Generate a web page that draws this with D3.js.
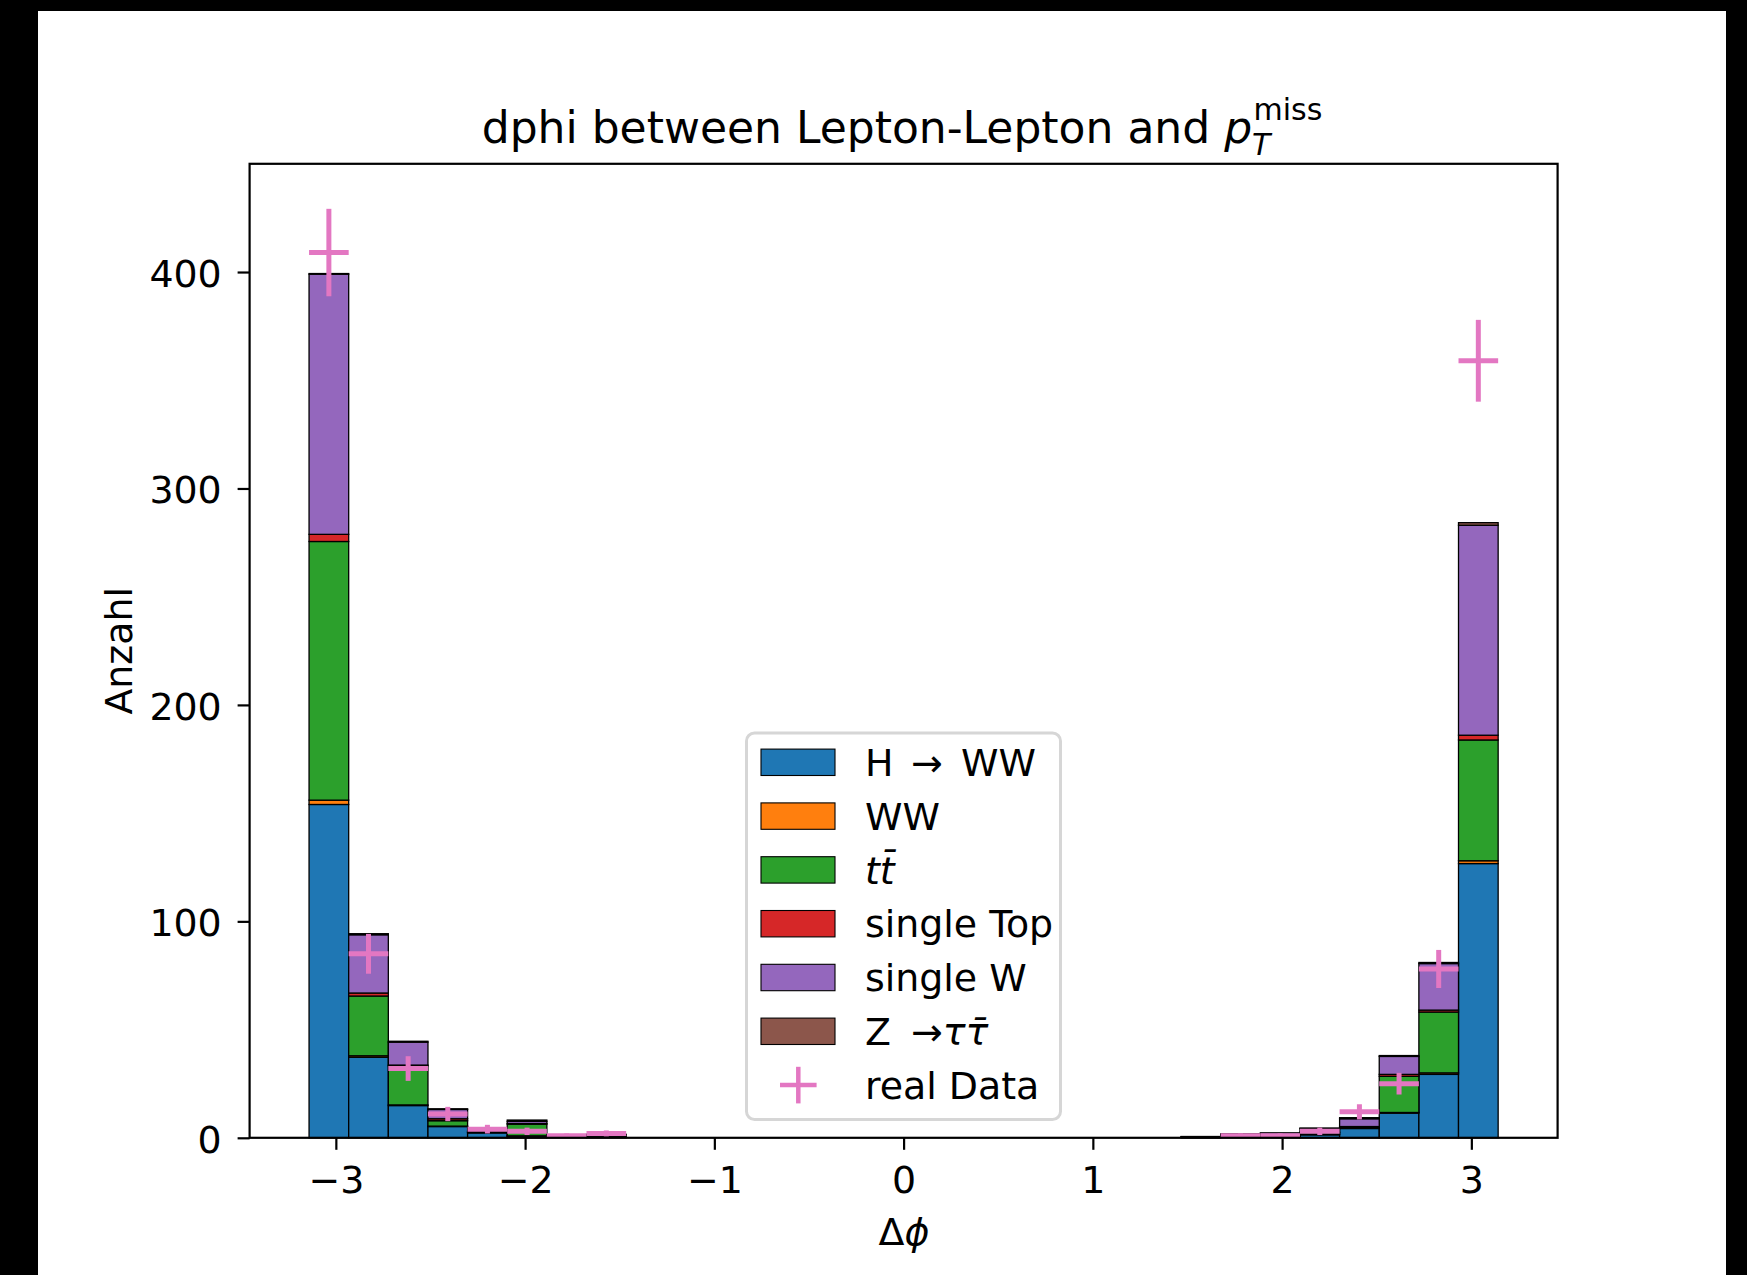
<!DOCTYPE html>
<html><head><meta charset="utf-8">
<script src="https://cdn.jsdelivr.net/npm/d3@7"></script>
<style>
body{margin:0;background:#000}
svg{display:block}
text{font-family:"DejaVu Sans",sans-serif;white-space:pre}
</style>
</head><body>
<svg id="c" width="1747" height="1275"></svg>
<script>
// ---- data ----
const binRange = [-Math.PI, Math.PI];
const nBins = 30;
const seriesNames = ["H \u2192 WW", "WW", "tt\u0304", "single Top", "single W", "Z \u2192\u03c4\u03c4\u0304"];
const seriesColors = ["#1f77b4", "#ff7f0e", "#2ca02c", "#d62728", "#9467bd", "#8c564b"];
const hww   = [154, 37.2, 14.9, 5.2, 2.3, 0.8, 0.2, 0.3, 0,0,0,0,0,0,0,0,0,0,0,0,0,0, 0.1, 0.3, 0.5, 1.4, 4.3, 11.4, 29.3, 126.7];
const ww    = [2.0, 0.7, 0.3, 0.2, 0.1, 0.1, 0, 0,       0,0,0,0,0,0,0,0,0,0,0,0,0,0, 0, 0, 0, 0.1, 0.1, 0.3, 0.7, 1.3];
const ttbar = [119.5, 27.6, 18.1, 2.5, 0.1, 5.4, 0.1, 0.2, 0,0,0,0,0,0,0,0,0,0,0,0,0,0, 0.1, 0.3, 0.4, 0.8, 0.3, 16.7, 28.1, 55.8];
const singleTop = [3.3, 1.4, 0.3, 0.9, 0.2, 0.3, 0, 0,   0,0,0,0,0,0,0,0,0,0,0,0,0,0, 0, 0, 0, 0.3, 0.5, 0.9, 0.9, 2.2];
const singleW = [120.2, 26.9, 10.6, 4.3, 0.2, 1.0, 1.0, 1.0, 0,0,0,0,0,0,0,0,0,0,0,0,0,0, 0.3, 1.2, 1.4, 1.7, 3.6, 8.3, 21.5, 97.0];
const ztautau = [0.3, 0.5, 0.4, 0.3, 0.1, 0.6, 0, 0.1,  0,0,0,0,0,0,0,0,0,0,0,0,0,0, 0.1, 0, 0, 0.2, 0.5, 0.4, 0.5, 1.2];
const realData = [409, 85, 32, 11, 4, 3, 1, 2, 0,0,0,0,0,0,0,0,0,0,0,0,0,0, 0, 1, 1, 3, 12, 25, 78, 359];
const realErr  = [20.2, 9.2, 5.7, 3.3, 2.0, 1.7, 1.0, 1.4, 0,0,0,0,0,0,0,0,0,0,0,0,0,0, 0, 1.0, 1.0, 1.7, 3.5, 5.0, 8.8, 18.9];
const xTicks = [-3, -2, -1, 0, 1, 2, 3];
const yTicks = [0, 100, 200, 300, 400];
const yMax = 450;

// ---- layout ----
const svg = d3.select("#c");
const L = 249.6, R = 1557.6, T = 163.8, B = 1137.8;
const fs = 37.9;
svg.append("rect").attr("x",0).attr("y",0).attr("width",1747).attr("height",1275).attr("fill","#000");
svg.append("rect").attr("x",38).attr("y",11).attr("width",1726-38).attr("height",1275-11).attr("fill","#fff");

const width = binRange[1]-binRange[0];
const x = d3.scaleLinear().domain([binRange[0]-0.05*width, binRange[1]+0.05*width]).range([L, R]);
const y = d3.scaleLinear().domain([0, yMax]).range([B, T]);
const edges = d3.range(nBins+1).map(i => binRange[0] + i*width/nBins);

const rows = d3.range(nBins).map(i => ({i, x0: edges[i], x1: edges[i+1],
  s0: hww[i], s1: ww[i], s2: ttbar[i], s3: singleTop[i], s4: singleW[i], s5: ztautau[i]}));
const keys = ["s0","s1","s2","s3","s4","s5"];
const stacked = d3.stack().keys(keys)(rows);

const gBars = svg.append("g");
stacked.forEach((layer, k) => {
  gBars.selectAll(null).data(layer).enter().append("rect")
    .attr("x", d => x(d.data.x0))
    .attr("width", d => x(d.data.x1) - x(d.data.x0))
    .attr("y", d => y(d[1]))
    .attr("height", d => Math.max(0, y(d[0]) - y(d[1])))
    .attr("fill", seriesColors[k])
    .attr("stroke", "#000")
    .attr("stroke-width", 1.3);
});

// data crosses
const pink = "#e377c2";
const gData = svg.append("g").attr("stroke", pink).attr("stroke-width", 5);
rows.forEach(r => {
  const v = realData[r.i];
  if (v <= 0) return;
  const e = realErr[r.i];
  const cx = x((r.x0 + r.x1)/2);
  gData.append("line").attr("x1", x(r.x0)).attr("x2", x(r.x1)).attr("y1", y(v)).attr("y2", y(v));
  gData.append("line").attr("x1", cx).attr("x2", cx).attr("y1", y(v - e)).attr("y2", y(v + e));
});

// axes
const fmt = d => d < 0 ? "\u2212" + (-d) : String(d);
const gx = svg.append("g").attr("transform", `translate(0,${B})`)
  .call(d3.axisBottom(x).tickValues(xTicks).tickSize(12).tickFormat(fmt));
gx.select(".domain").remove();
gx.selectAll(".tick line").attr("stroke", "#000").attr("stroke-width", 2.2);
gx.selectAll(".tick text").attr("y", 55.7).attr("dy", null)
  .style("font-family", "DejaVu Sans").style("font-size", fs + "px").attr("fill", "#000");

const gy = svg.append("g").attr("transform", `translate(${L},0)`)
  .call(d3.axisLeft(y).tickValues(yTicks).tickSize(12).tickFormat(fmt));
gy.select(".domain").remove();
gy.selectAll(".tick line").attr("stroke", "#000").attr("stroke-width", 2.2);
gy.selectAll(".tick text").attr("x", -27.9).attr("dy", null).attr("y", 14.3)
  .style("font-family", "DejaVu Sans").style("font-size", fs + "px").attr("fill", "#000");

svg.append("rect").attr("x", L).attr("y", T).attr("width", R-L).attr("height", B-T)
  .attr("fill", "none").attr("stroke", "#000").attr("stroke-width", 2.2);

// labels
const title = svg.append("text").attr("x", 902).attr("y", 143).attr("text-anchor", "middle")
  .style("font-size", "44px").attr("fill", "#000");
title.append("tspan").text("dphi between Lepton-Lepton and ");
title.append("tspan").style("font-style", "italic").text("p");
title.append("tspan").style("font-style", "italic").style("font-size", "30px").attr("dy", 12).text("T");
title.append("tspan").style("font-size", "30px").attr("dy", -35).attr("dx", -17).text("miss");

const xl = svg.append("text").attr("x", 904).attr("y", 1245).attr("text-anchor", "middle")
  .style("font-size", fs + "px").attr("fill", "#000");
xl.append("tspan").text("\u0394");
xl.append("tspan").style("font-style", "italic").text("\u03d5");

svg.append("text").attr("transform", "translate(131.5,650.8) rotate(-90)").attr("text-anchor", "middle")
  .style("font-size", fs + "px").attr("fill", "#000").text("Anzahl");

// legend
const lg = svg.append("g");
lg.append("rect").attr("x", 746.5).attr("y", 733).attr("width", 314).attr("height", 386.5)
  .attr("rx", 8).attr("fill", "#fff").attr("fill-opacity", 0.8)
  .attr("stroke", "#d6d6d6").attr("stroke-width", 3);
const rowY0 = 762.3, rowDy = 53.8;
seriesNames.forEach((name, k) => {
  const cy = rowY0 + k*rowDy;
  lg.append("rect").attr("x", 761).attr("y", cy - 13.2).attr("width", 74).attr("height", 26.4)
    .attr("fill", seriesColors[k]).attr("stroke", "#000").attr("stroke-width", 1.1);
  const t = lg.append("text").attr("x", 865).attr("y", cy + 13.7).style("font-size", fs + "px").attr("fill", "#000");
  if (k === 0) {
    t.append("tspan").text("H");
    t.append("tspan").attr("x", 911).text("\u2192");
    t.append("tspan").attr("x", 961).text("WW");
  } else if (k === 2) {
    t.append("tspan").style("font-style", "italic").text("tt\u0304");
  } else if (k === 5) {
    t.append("tspan").text("Z");
    t.append("tspan").attr("x", 911).text("\u2192");
    t.append("tspan").style("font-style", "italic").text("\u03c4\u03c4\u0304");
  } else {
    t.text(name);
  }
});
const dcy = rowY0 + 6*rowDy;
lg.append("line").attr("x1", 780).attr("x2", 816.6).attr("y1", dcy).attr("y2", dcy).attr("stroke", pink).attr("stroke-width", 4.5);
lg.append("line").attr("x1", 798.3).attr("x2", 798.3).attr("y1", dcy-18.3).attr("y2", dcy+18.3).attr("stroke", pink).attr("stroke-width", 4.5);
lg.append("text").attr("x", 865).attr("y", dcy + 13.7).style("font-size", fs + "px").attr("fill", "#000").text("real Data");
</script>
</body></html>
